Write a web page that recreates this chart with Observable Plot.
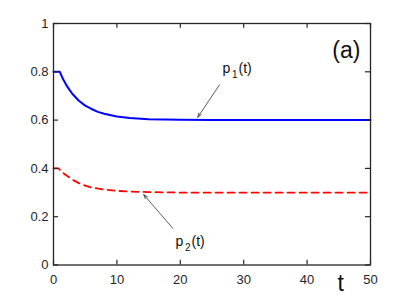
<!DOCTYPE html>
<html><head><meta charset="utf-8">
<script src="https://cdn.jsdelivr.net/npm/d3@7"></script>
<script src="https://cdn.jsdelivr.net/npm/@observablehq/plot@0.6"></script>
<style>body{margin:0;background:#fff;} svg{display:block;}</style>
</head><body><div id="chart"></div>
<script>
// p1(t): solid blue
const t1 = [0, 1, 1.5, 2, 2.5, 3, 4, 5, 6, 7, 8, 10, 12, 15, 20, 25, 30, 40, 50];
const p1 = [0.8, 0.8, 0.77, 0.746, 0.726, 0.708, 0.68, 0.66, 0.646, 0.634, 0.626, 0.615, 0.609, 0.604, 0.601, 0.6, 0.6, 0.6, 0.6];
// p2(t): dashed red
const t2 = [0, 0.8, 1.5, 2, 3, 4, 5, 6, 8, 10, 12, 15, 20, 30, 50];
const p2 = [0.4, 0.4, 0.381, 0.372, 0.353, 0.339, 0.329, 0.321, 0.312, 0.307, 0.304, 0.302, 0.3, 0.3, 0.3];

const xTicks = [0, 10, 20, 30, 40, 50];
const yTicks = [0, 0.2, 0.4, 0.6, 0.8, 1];

// annotation arrows: [x1, y1, x2, y2]
const arrowP1 = [26.18, 0.746, 22.76, 0.612];
const arrowP2 = [18.82, 0.152, 14.24, 0.291];
// annotation text anchors
const labelP1 = {x: 26.66, y: 0.797};
const labelP2 = {x: 19.25, y: 0.08};
const panelLabel = "(a)";
const xLabel = "t";

const s1 = t1.map((t, i) => ({t, v: p1[i]}));
const s2 = t2.map((t, i) => ({t, v: p2[i]}));
const arrows = [arrowP1, arrowP2].map(a => ({x1: a[0], y1: a[1], x2: a[2], y2: a[3]}));
const names = [{...labelP1, sub: "1"}, {...labelP2, sub: "2"}];

const ink = "#262626";
const chart = Plot.plot({
  width: 409, height: 298,
  marginLeft: 53, marginRight: 39, marginTop: 23, marginBottom: 33.5,
  style: {fontFamily: "'Liberation Sans', Arial, sans-serif", fontSize: "13px", color: ink, background: "#fff"},
  x: {domain: [0, 50]},
  y: {domain: [0, 1]},
  marks: [
    Plot.line(s2, {x: "t", y: "v", stroke: "#ff0000", strokeWidth: 1.8, strokeDasharray: "7,5"}),
    Plot.line(s1, {x: "t", y: "v", stroke: "#0000ff", strokeWidth: 2}),
    Plot.frame({stroke: ink, strokeWidth: 1.3}),
    Plot.ruleX(xTicks, {x: d => d, y1: 0, y2: 0.02, stroke: ink, strokeWidth: 1.2}),
    Plot.ruleX(xTicks, {x: d => d, y1: 0.98, y2: 1, stroke: ink, strokeWidth: 1.2}),
    Plot.ruleY(yTicks, {y: d => d, x1: 0, x2: 0.8, stroke: ink, strokeWidth: 1.2}),
    Plot.ruleY(yTicks, {y: d => d, x1: 49.2, x2: 50, stroke: ink, strokeWidth: 1.2}),
    Plot.axisX({ticks: xTicks, tickSize: 0, tickPadding: 10, label: null, fontSize: 13, tickFormat: d => String(d)}),
    Plot.axisY({ticks: yTicks, tickSize: 0, tickPadding: 5, label: null, fontSize: 13, tickFormat: d => String(d)}),
    Plot.arrow(arrows, {x1: "x1", y1: "y1", x2: "x2", y2: "y2", stroke: "#333", strokeWidth: 0.8, headLength: 8, headAngle: 40}),
    Plot.text(names, {x: "x", y: "y", text: () => "p", textAnchor: "start", lineAnchor: "bottom", fontSize: 14, fill: "#111"}),
    Plot.text(names, {x: "x", y: "y", text: "sub", textAnchor: "start", lineAnchor: "bottom", fontSize: 10, dx: 9.5, dy: 5, fill: "#111"}),
    Plot.text(names, {x: "x", y: "y", text: () => "(t)", textAnchor: "start", lineAnchor: "bottom", fontSize: 14, dx: 16, fill: "#111"}),
    Plot.text([panelLabel], {x: 48.4, y: 0.859, text: d => d, textAnchor: "end", lineAnchor: "bottom", fontSize: 23, fill: "#111"}),
    Plot.text([xLabel], {x: 45.3, y: -0.106, text: d => d, textAnchor: "middle", lineAnchor: "bottom", fontSize: 23, fill: "#111"})
  ]
});
document.getElementById("chart").appendChild(chart);
</script>
</body></html>
